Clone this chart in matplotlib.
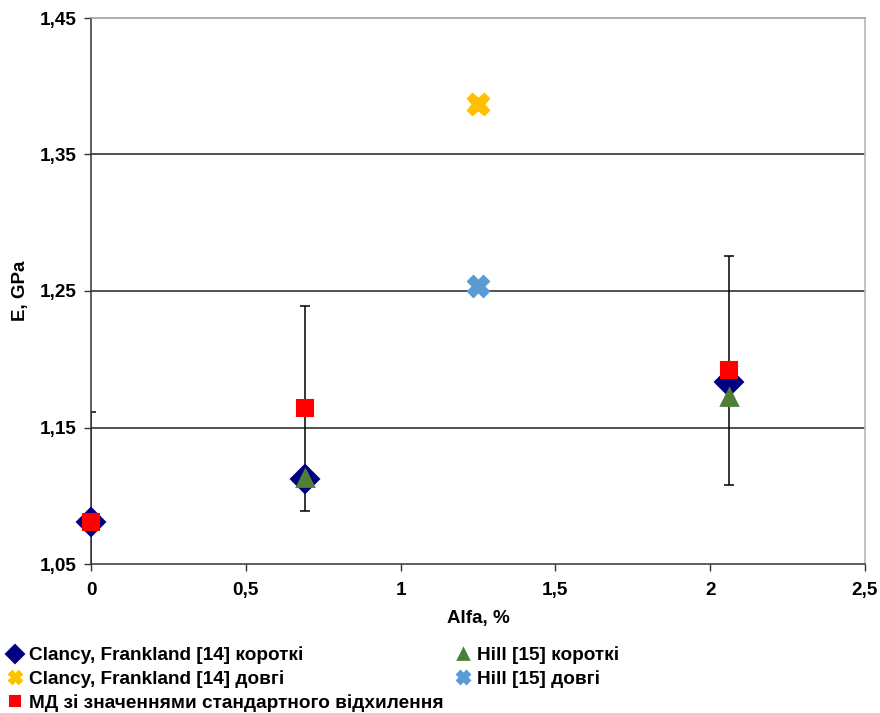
import matplotlib.pyplot as plt

plt.rcParams['font.family'] = ['Liberation Sans', 'DejaVu Sans']
plt.rcParams['font.weight'] = 'bold'

# data
clancy_short_x = [0, 0.69, 2.06]
clancy_short_y = [1.081, 1.112, 1.183]
hill_short_x = [0.69, 2.06]
hill_short_y = [1.113, 1.172]
clancy_long_x = [1.25]
clancy_long_y = [1.387]
hill_long_x = [1.25]
hill_long_y = [1.254]
md_x = [0, 0.69, 2.06]
md_y = [1.081, 1.164, 1.192]
md_err = [0.080, 0.075, 0.084]

labels = ['Clancy, Frankland [14] короткі', 'Clancy, Frankland [14] довгі',
          'МД зі значеннями стандартного відхилення',
          'Hill [15] короткі', 'Hill [15] довгі']
xticks = [0, 0.5, 1, 1.5, 2, 2.5]
xtick_labels = ['0', '0,5', '1', '1,5', '2', '2,5']
yticks = [1.05, 1.15, 1.25, 1.35, 1.45]
ytick_labels = ['1,05', '1,15', '1,25', '1,35', '1,45']

fig = plt.figure(figsize=(8.8, 7.13), dpi=100)
ax = fig.add_axes([91/880, 1-564/713, (865-91)/880, (564-18)/713])

for y in yticks[1:-1]:
    ax.axhline(y, color='#222222', lw=1.1, zorder=1)

ax.errorbar(md_x, md_y, yerr=md_err, fmt='none', ecolor='black', elinewidth=1.1,
            capsize=3.5, capthick=1.1, zorder=2)

h1, = ax.plot(clancy_short_x, clancy_short_y, 'D', color='#000080', ms=14,
              mec='#000080', mew=1.5, mfc='#000080', ls='none', zorder=3)
h4, = ax.plot(hill_short_x, hill_short_y, '^', color='#4e7f35', ms=12,
              mec='#4e7f35', mew=2, ls='none', zorder=4)
h2, = ax.plot(clancy_long_x, clancy_long_y, 'X', color='#ffc000', ms=16,
              mec='#ffc000', mew=1, ls='none', zorder=3)
h5, = ax.plot(hill_long_x, hill_long_y, 'X', color='#5b9bd5', ms=14,
              mec='#5b9bd5', mew=2, ls='none', zorder=3)
h3, = ax.plot(md_x, md_y, 's', color='#ff0000', ms=12, mec='#ff0000', mew=1.5,
              ls='none', zorder=5)
for h in (h1, h2, h3, h4, h5):
    h.set_solid_joinstyle('round')
    h.set_clip_on(False)

ax.set_xlim(0, 2.5)
ax.set_ylim(1.05, 1.45)
ax.set_xticks(xticks)
ax.set_xticklabels(xtick_labels)
ax.set_yticks(yticks)
ax.set_yticklabels(ytick_labels)
ax.tick_params(direction='out', length=5, width=1, color='#333333',
               labelsize=13.6)
ax.tick_params(axis='x', pad=8)
ax.tick_params(axis='y', pad=5)

for s in ('left', 'bottom'):
    ax.spines[s].set_color('#333333')
    ax.spines[s].set_linewidth(1.1)
ax.spines['top'].set_color('#a0a0a0')
ax.spines['right'].set_color('#b8b8b8')
ax.spines['top'].set_linewidth(1.2)
ax.spines['right'].set_linewidth(1.2)

ax.set_xlabel('Alfa, %', fontsize=13.5, fontweight='bold', labelpad=8)
ax.set_ylabel('E, GPa', fontsize=13.5, fontweight='bold', labelpad=8)

fig.legend([h1, h2, h3, h4, h5], labels, ncol=2, loc='upper left',
           bbox_to_anchor=(0.0, 1-639/713), frameon=False, fontsize=13.7,
           markerscale=0.62, handlelength=0.8, handletextpad=0.35,
           labelspacing=0.31, columnspacing=0.6, borderaxespad=0)

fig.savefig('out.png', dpi=100, facecolor='white')
